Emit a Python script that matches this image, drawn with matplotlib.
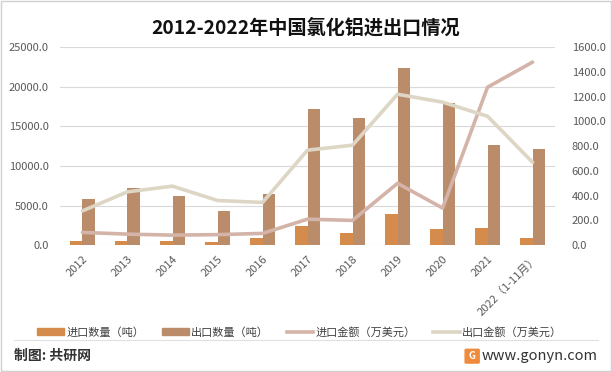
import matplotlib.pyplot as plt
import numpy as np
from matplotlib.patches import Patch, Rectangle, FancyBboxPatch
from matplotlib.lines import Line2D

plt.rcParams["font.family"] = ["Noto Sans CJK SC", "DejaVu Sans"]

# data
years = ["2012", "2013", "2014", "2015", "2016", "2017", "2018", "2019", "2020", "2021", "2022（1-11月）"]
import_qty = [500, 500, 500, 400, 900, 2400, 1550, 3950, 2000, 2200, 900]
export_qty = [5850, 7200, 6200, 4300, 6450, 17200, 16100, 22400, 17900, 12600, 12100]
import_amt = [103, 89, 81, 85, 95, 210, 200, 500, 300, 1277, 1480]
export_amt = [277, 431, 477, 361, 345, 768, 808, 1220, 1156, 1042, 670]

c_imp_bar = "#D58B4B"
c_exp_bar = "#BA8C6A"
c_imp_line = "#D4B4A8"
c_exp_line = "#DDD6C4"

fig = plt.figure(figsize=(6.12, 3.72), dpi=100)
ax = fig.add_axes([0.098, 0.341, 0.809, 0.532])
ax2 = ax.twinx()

x = np.arange(len(years))
w = 0.28
ax.bar(x - w / 2, import_qty, w, color=c_imp_bar, zorder=2)
ax.bar(x + w / 2, export_qty, w, color=c_exp_bar, zorder=2)
ax2.plot(x, import_amt, color=c_imp_line, lw=2.6, solid_capstyle="round")
ax2.plot(x, export_amt, color=c_exp_line, lw=2.6, solid_capstyle="round")

ax.set_xlim(-0.5, len(years) - 0.5)
ax.set_ylim(0, 25000)
ax2.set_ylim(0, 1600)
ax.set_yticks(np.arange(0, 25001, 5000))
ax2.set_yticks(np.arange(0, 1601, 200))
ax.yaxis.set_major_formatter(lambda v, p: f"{v:.1f}")
ax2.yaxis.set_major_formatter(lambda v, p: f"{v:.1f}")
ax.grid(axis="y", color="#D9D9D9", lw=0.8, zorder=0)
ax.set_axisbelow(True)

for a in (ax, ax2):
    for s in a.spines.values():
        s.set_visible(False)
    a.tick_params(length=0, labelsize=8, labelcolor="#595959")
ax.tick_params(axis="y", pad=8)
ax2.tick_params(axis="y", pad=12)

ax.set_xticks(x)
ax.set_xticklabels(years, rotation=45, ha="right", rotation_mode="anchor", fontsize=8, color="#595959")
ax.tick_params(axis="x", pad=6)

fig.text(0.5, 0.924, "2012-2022年中国氯化铝进出口情况", ha="center", va="center",
         fontsize=13.8, fontweight="bold", color="#111111")

handles = [
    Patch(color=c_imp_bar, label="进口数量（吨）"),
    Patch(color=c_exp_bar, label="出口数量（吨）"),
    Line2D([], [], color=c_imp_line, lw=2.6, label="进口金额（万美元）"),
    Line2D([], [], color=c_exp_line, lw=2.6, label="出口金额（万美元）"),
]
fig.legend(handles=handles, loc="center", bbox_to_anchor=(0.49, 0.107), ncol=4, frameon=False,
           fontsize=8, handlelength=2.4, handleheight=0.5, handletextpad=0.2, columnspacing=1.6,
           labelcolor="#404040")

fig.add_artist(Line2D([0.023, 0.977], [0.086, 0.086], color="#E0E0E0", lw=0.8))
fig.text(0.023, 0.043, "制图: 共研网", ha="left", va="center", fontsize=10, fontweight="bold", color="#333333")
fig.text(0.977, 0.043, "www.gonyn.com", ha="right", va="center", fontsize=10.5, color="#333333")
fig.add_artist(FancyBboxPatch((0.762, 0.026), 0.019, 0.033, boxstyle="round,pad=0.002",
                              transform=fig.transFigure, color="#F08A3C"))
fig.text(0.7715, 0.043, "G", ha="center", va="center", fontsize=7, fontweight="bold", color="white")

fig.add_artist(Rectangle((0.002, 0.003), 0.996, 0.994, transform=fig.transFigure,
                         fill=False, edgecolor="#D0D0D0", lw=1))

fig.savefig("out.png", dpi=100)
